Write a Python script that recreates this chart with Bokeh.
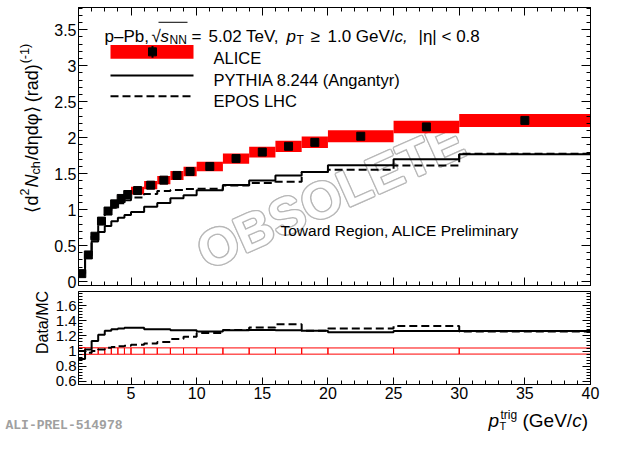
import numpy as np
from bokeh.plotting import figure
from bokeh.layouts import column, row
from bokeh.models import Range1d, LinearAxis, FixedTicker, CustomJSTickFormatter, Label
from bokeh.embed import file_html
from bokeh.resources import INLINE

# ---------------- data ----------------
bin_edges = [1, 1.5, 2, 2.5, 3, 3.5, 4, 4.5, 5, 6, 7, 8, 9, 10, 12, 14, 16, 18, 20, 25, 30, 40]
alice = [0.11, 0.37, 0.63, 0.84, 0.98, 1.08, 1.155, 1.21, 1.265, 1.34, 1.41,
         1.475, 1.53, 1.60, 1.71, 1.80, 1.88, 1.935, 2.02, 2.15, 2.24]
alice_stat = [0.002, 0.003, 0.003, 0.004, 0.004, 0.005, 0.005, 0.005, 0.006, 0.006, 0.007,
              0.008, 0.009, 0.009, 0.011, 0.014, 0.017, 0.02, 0.018, 0.028, 0.045]
alice_sys = [0.005, 0.016, 0.027, 0.036, 0.041, 0.046, 0.049, 0.051, 0.054, 0.057, 0.059,
             0.062, 0.065, 0.067, 0.071, 0.075, 0.078, 0.08, 0.083, 0.087, 0.09]
pythia = [0.123, 0.363, 0.556, 0.69, 0.772, 0.837, 0.888, 0.924, 0.966, 1.039, 1.093,
          1.157, 1.20, 1.27, 1.341, 1.406, 1.475, 1.524, 1.616, 1.70, 1.77]
epos = [0.11, 0.378, 0.63, 0.823, 0.94, 1.025, 1.087, 1.13, 1.167, 1.218, 1.259,
        1.272, 1.286, 1.29, 1.336, 1.371, 1.387, 1.524, 1.554, 1.613, 1.778]

x_major = [5, 10, 15, 20, 25, 30, 35, 40]
y_major_top = [0, 0.5, 1, 1.5, 2, 2.5, 3, 3.5]
y_major_ratio = [0.6, 0.8, 1.0, 1.2, 1.4, 1.6]

FONT = "Liberation Sans"
X_RANGE = (1, 40)
Y_TOP = (-0.055, 3.81)
Y_RATIO = (0.556, 1.79)

# positions inside the frames are given in reference-picture pixels
FL, FR = 78, 590
T_TOP, T_BOT = 19, 301
R_TOP, R_BOT = 307, 400

# actual layout (picture pixels); slightly compressed vertically to fit the window
LEFT_W = 50
P1_TOP, P1_FH = 7, 278
H1 = P1_TOP + P1_FH + 5
P2_FH = R_BOT - R_TOP
H2 = 1 + P2_FH + 20
H3 = 433 - H1 - H2


def px2x(px):
    return X_RANGE[0] + (px - FL) / (FR - FL) * (X_RANGE[1] - X_RANGE[0])


def py_top(py):
    return Y_TOP[1] - (py - T_TOP) / (T_BOT - T_TOP) * (Y_TOP[1] - Y_TOP[0])


def py_rat(py):
    return Y_RATIO[1] - (py - R_TOP) / (R_BOT - R_TOP) * (Y_RATIO[1] - Y_RATIO[0])


def ident(v):
    return v


W = {' ': 278, '(': 333, ')': 333, '-': 333, '/': 278, '.': 278, ',': 278, '|': 260,
     '=': 584, '<': 584, '≥': 549, '–': 556, '√': 549, '⟨': 390, '⟩': 390, 'η': 560,
     'φ': 650, 'A': 667, 'B': 667, 'C': 722, 'D': 722, 'E': 667, 'G': 778, 'H': 722,
     'I': 278, 'L': 556, 'M': 833, 'N': 722, 'O': 778, 'P': 667, 'R': 722, 'S': 667,
     'T': 611, 'V': 667, 'Y': 667, 'a': 556, 'b': 556, 'c': 500, 'd': 556, 'e': 556,
     'g': 556, 'h': 556, 'i': 222, 'l': 222, 'm': 833, 'n': 556, 'o': 556, 'p': 556,
     'r': 333, 's': 500, 't': 278, 'u': 556, 'v': 500, 'w': 722, 'y': 500}


def tw(s, size):
    return sum(W.get(ch, 556) for ch in s) * size / 1000.0


def put(fig, xmap, ymap, px, py, text, size, style="normal", color="black", angle=0,
        align="left", baseline="alphabetic", font=FONT, level="annotation", dx=0, dy=0):
    fig.add_layout(Label(x=xmap(px), y=ymap(py), text=text, text_font=font,
                         text_font_size=f"{size}px", text_font_style=style,
                         text_color=color, angle=angle, angle_units="deg",
                         text_align=align, text_baseline=baseline, level=level,
                         x_offset=dx, y_offset=dy))


def run_v(fig, bx, y, pieces):
    for text, size, style, shift, gap in pieces:
        put(fig, ident, ident, bx - shift, y, text, size, style, angle=90)
        y -= tw(text, size) + gap
    return y


def step_xy(edges, vals):
    xs, ys = [], []
    for i, v in enumerate(vals):
        xs += [edges[i], edges[i + 1]]
        ys += [v, v]
    return xs, ys


def style_axis(ax, ticks, minor, tin, minin, label_size=None):
    ax.ticker = FixedTicker(ticks=ticks, minor_ticks=minor)
    ax.major_tick_in = tin
    ax.major_tick_out = 0
    ax.minor_tick_in = minin
    ax.minor_tick_out = 0
    ax.axis_line_color = "black"
    ax.major_tick_line_color = "black"
    ax.minor_tick_line_color = "black"
    ax.major_label_text_font = FONT
    ax.major_label_text_color = "black"
    if label_size:
        ax.formatter = CustomJSTickFormatter(code="return String(Math.round(tick*10)/10);")
        ax.major_label_text_font_size = f"{label_size}px"
        ax.major_label_standoff = 2
    else:
        ax.formatter = CustomJSTickFormatter(code="return '';")
        ax.major_label_text_font_size = "1px"
        ax.major_label_standoff = 0


def text_fig(w, h, xr, yr):
    f = figure(width=w, height=h, x_range=Range1d(*xr), y_range=Range1d(*yr),
               output_backend="svg", toolbar_location=None, x_axis_location=None,
               y_axis_location=None, min_border=0)
    f.grid.visible = False
    f.outline_line_color = None
    f.background_fill_color = "white"
    f.border_fill_color = "white"
    return f


edges = np.array(bin_edges, dtype=float)
centers = 0.5 * (edges[:-1] + edges[1:])
a = np.array(alice)
st = np.array(alice_stat)
sy = np.array(alice_sys)
py_ = np.array(pythia)
ep = np.array(epos)

x_minor = list(range(1, 41))
y_minor_top = [round(v, 1) for v in np.arange(0, 3.85, 0.1)]
y_minor_ratio = [round(v, 2) for v in np.arange(0.56, 1.79, 0.04)]

# ---------------- top panel ----------------
p1 = figure(width=604 - LEFT_W, height=H1, x_range=Range1d(*X_RANGE), y_range=Range1d(*Y_TOP),
            output_backend="svg", toolbar_location=None,
            min_border_left=FL - LEFT_W, min_border_right=604 - FR,
            min_border_top=P1_TOP, min_border_bottom=5)
p1.grid.visible = False
p1.outline_line_color = "black"
p1.background_fill_color = "white"
p1.border_fill_color = "white"
style_axis(p1.xaxis[0], x_major, x_minor, 8, 4)
style_axis(p1.yaxis[0], y_major_top, y_minor_top, 9, 4, 16)
ax_r = LinearAxis()
style_axis(ax_r, y_major_top, y_minor_top, 9, 4)
p1.add_layout(ax_r, "right")
ax_t = LinearAxis()
style_axis(ax_t, x_major, x_minor, 8, 4)
p1.add_layout(ax_t, "above")

# watermark (outlined text, under the data)
wx, wy = 330, 210
for ddx, ddy in [(-1.3, 0), (1.3, 0), (0, -1.3), (0, 1.3), (-1, -1), (1, 1), (-1, 1), (1, -1)]:
    put(p1, px2x, py_top, wx, wy, "OBSOLETE", 52, style="bold", color="#b8b8b8", angle=24,
        align="center", baseline="middle", level="underlay", dx=ddx, dy=ddy)
put(p1, px2x, py_top, wx, wy, "OBSOLETE", 52, style="bold", color="white", angle=24,
    align="center", baseline="middle", level="underlay")

p1.quad(left=edges[:-1], right=edges[1:], bottom=a - sy, top=a + sy,
        fill_color="#ff0000", line_color=None)
xs, ys = step_xy(bin_edges, pythia)
p1.line(xs, ys, line_color="black", line_width=2)
xs, ys = step_xy(bin_edges, epos)
p1.line(xs, ys, line_color="black", line_width=2, line_dash="8 4")
p1.segment(x0=centers, y0=a - st, x1=centers, y1=a + st, line_color="black", line_width=2)
p1.scatter(centers, a, marker="square", size=8, color="black")

# legend
p1.quad(left=[px2x(110)], right=[px2x(193)], bottom=[py_top(71)], top=[py_top(57)],
        fill_color="#ff0000", line_color=None)
p1.segment(x0=[px2x(152)], y0=[py_top(70)], x1=[px2x(152)], y1=[py_top(58)],
           line_color="black", line_width=2)
p1.scatter([px2x(152)], [py_top(64)], marker="square", size=8, color="black")
p1.line([px2x(110), px2x(193)], [py_top(88), py_top(88)], line_color="black", line_width=2)
p1.line([px2x(110), px2x(193)], [py_top(109), py_top(109)], line_color="black",
        line_width=2, line_dash="8 4")
put(p1, px2x, py_top, 213, 70, "ALICE", 16.5)
put(p1, px2x, py_top, 213, 93, "PYTHIA 8.244 (Angantyr)", 16.5)
put(p1, px2x, py_top, 213, 114, "EPOS LHC", 16.5)

# header line (pieces placed one by one)
HB = 48
put(p1, px2x, py_top, 104, HB, "p–Pb,", 17)
put(p1, px2x, py_top, 151, HB, "√", 17)
put(p1, px2x, py_top, 160, HB, "s", 17, style="italic")
put(p1, px2x, py_top, 169, HB + 4, "NN", 12)
p1.line([px2x(158), px2x(187)], [py_top(34), py_top(34)], line_color="black", line_width=1)
put(p1, px2x, py_top, 191, HB, "=", 17)
put(p1, px2x, py_top, 208, HB, "5.02 TeV,", 17)
put(p1, px2x, py_top, 286, HB, "p", 17, style="italic")
put(p1, px2x, py_top, 296, HB + 4, "T", 12)
put(p1, px2x, py_top, 310, HB, "≥", 17)
put(p1, px2x, py_top, 327, HB, "1.0 GeV/", 17)
put(p1, px2x, py_top, 327 + tw("1.0 GeV/", 17), HB, "c,", 17, style="italic")
put(p1, px2x, py_top, 418, HB, "|η| < 0.8", 17)

put(p1, px2x, py_top, 280, 245, "Toward Region, ALICE Preliminary", 15.5)

# ---------------- ratio panel ----------------
p2 = figure(width=604 - LEFT_W, height=H2, x_range=p1.x_range, y_range=Range1d(*Y_RATIO),
            output_backend="svg", toolbar_location=None,
            min_border_left=FL - LEFT_W, min_border_right=604 - FR,
            min_border_top=1, min_border_bottom=20)
p2.grid.visible = False
p2.outline_line_color = "black"
p2.background_fill_color = "white"
p2.border_fill_color = "white"
style_axis(p2.xaxis[0], x_major, x_minor, 7, 4, 16)
style_axis(p2.yaxis[0], y_major_ratio, y_minor_ratio, 8, 4, 15)
ax_r2 = LinearAxis()
style_axis(ax_r2, y_major_ratio, y_minor_ratio, 8, 4)
p2.add_layout(ax_r2, "right")

rel = sy / a
p2.quad(left=edges[:-1], right=edges[1:], bottom=1 - rel, top=1 + rel,
        fill_alpha=0, line_color="#ff0000", line_width=1)
xs, ys = step_xy(bin_edges, list(a / py_))
p2.line(xs, ys, line_color="black", line_width=2)
xs, ys = step_xy(bin_edges, list(a / ep))
p2.line(xs, ys, line_color="black", line_width=2, line_dash="8 4")

# ---------------- text strips outside the frames (picture pixels) ----------------
left = text_fig(LEFT_W, H1 + H2, (0, LEFT_W), (H1 + H2, 0))
run_v(left, 31, 212, [("⟨d", 18, "normal", 0, 0),
                      ("2", 12.6, "normal", 7, 1),
                      ("N", 18, "italic", 0, 0),
                      ("ch", 12.6, "normal", -4, 1),
                      ("/dηdφ⟩", 18, "normal", 0, 4),
                      ("(rad)", 18, "normal", 0, 1),
                      ("(-1)", 12.6, "normal", 7, 0)])
dm_center = H1 + 1 + 31
put(left, ident, ident, 42, dm_center + tw("Data/MC", 16) / 2, "Data/MC", 16, angle=90)

y0 = H1 + H2
bottom = text_fig(604, H3, (0, 604), (y0 + H3, y0))
put(bottom, ident, ident, 488, y0 + 16, "p", 19, style="italic")
put(bottom, ident, ident, 499, y0 + 21, "T", 11)
put(bottom, ident, ident, 500, y0 + 10, "trig", 12)
put(bottom, ident, ident, 522, y0 + 16, "(GeV/", 19)
put(bottom, ident, ident, 522 + tw("(GeV/", 19), y0 + 16, "c", 19, style="italic")
put(bottom, ident, ident, 522 + tw("(GeV/c", 19), y0 + 16, ")", 19)
put(bottom, ident, ident, 5, y0 + 21, "ALI-PREL-514978", 13, style="bold",
    color="#a0a0a0", font="Liberation Mono")

layout = column(row(left, column(p1, p2)), bottom)
open("out.html", "w").write(file_html(layout, INLINE, "plot"))
